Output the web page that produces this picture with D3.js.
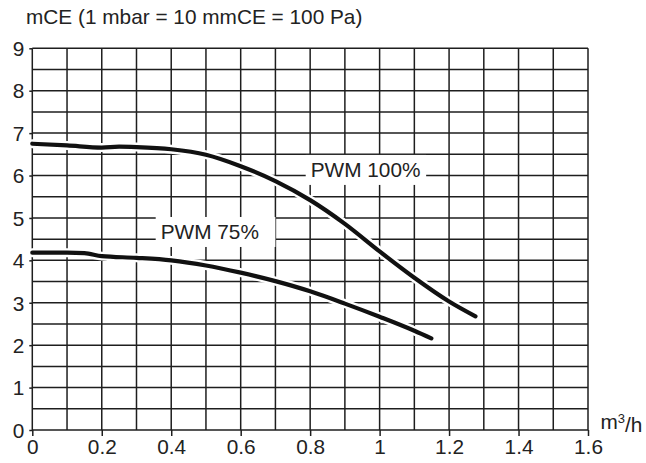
<!DOCTYPE html>
<html>
<head>
<meta charset="utf-8">
<script src="https://cdn.jsdelivr.net/npm/d3@7"></script>
<style>
	body { margin: 0; background: #fff; }
	text { font-family: "Liberation Sans", Arial, sans-serif; fill: #222; }
</style>
</head>
<body>
<svg id="pump-chart"></svg>
<script>
// flow (m3/h) and head (mCE)
var flow100 = [0, 0.1, 0.2, 0.25, 0.3, 0.4, 0.5, 0.6, 0.7, 0.8, 0.9, 1.0, 1.1, 1.2, 1.276];
var head100 = [6.75, 6.71, 6.66, 6.68, 6.67, 6.62, 6.49, 6.22, 5.87, 5.42, 4.86, 4.21, 3.59, 3.03, 2.68];

var flow75 = [0, 0.1, 0.15, 0.2, 0.3, 0.4, 0.5, 0.6, 0.7, 0.8, 0.9, 1.0, 1.1, 1.149];
var head75 = [4.18, 4.18, 4.17, 4.10, 4.06, 4.00, 3.88, 3.71, 3.51, 3.27, 2.98, 2.67, 2.34, 2.16];

var xTicks = [0, 0.2, 0.4, 0.6, 0.8, 1, 1.2, 1.4, 1.6];
var yTicks = [0, 1, 2, 3, 4, 5, 6, 7, 8, 9];

var seriesNames = ['PWM 100%', 'PWM 75%'];
// where each name sits (flow, head at the baseline) and how far its white box reaches right
var nameFlow = [0.8016, 0.3697];
var nameHead = [5.96, 4.497];
var boxRight = [1.134, 0.7];

var yTitle = 'mCE (1 mbar = 10 mmCE = 100 Pa)';

var width = 646,
    height = 463;

var margin = {left: 32.3, top: 48.3, right: 58, bottom: 33};
var plotW = width - margin.left - margin.right;
var plotH = height - margin.top - margin.bottom;

var svg = d3.select('#pump-chart')
	.attr('width', width)
	.attr('height', height);

var x = d3.scaleLinear().domain([0, 1.6]).range([0, plotW]);
var y = d3.scaleLinear().domain([0, 9]).range([plotH, 0]);

var g = svg.append('g')
	.attr('transform', `translate(${margin.left},${margin.top})`);

// grid: every 0.1 m3/h and every 0.5 mCE
var grid = g.append('g').attr('class', 'grid');

grid.selectAll('.vline')
	.data(d3.range(0, 17).map(i => i / 10))
	.enter()
	.append('line')
	.attr('x1', d => x(d))
	.attr('x2', d => x(d))
	.attr('y1', 0)
	.attr('y2', plotH)
	.attr('stroke', '#1e1e1e')
	.attr('stroke-width', 1.5);

grid.selectAll('.hline')
	.data(d3.range(0, 19).map(i => i / 2))
	.enter()
	.append('line')
	.attr('x1', 0)
	.attr('x2', plotW)
	.attr('y1', d => y(d))
	.attr('y2', d => y(d))
	.attr('stroke', '#1e1e1e')
	.attr('stroke-width', 1.5);

// axes (labels and short ticks only)
var xAxis = g.append('g')
	.attr('transform', `translate(0,${plotH})`)
	.call(d3.axisBottom(x)
		.tickValues(xTicks)
		.tickFormat(d3.format('~g'))
		.tickSize(6)
		.tickPadding(3));

var yAxis = g.append('g')
	.call(d3.axisLeft(y)
		.tickValues(yTicks)
		.tickFormat(d3.format('d'))
		.tickSize(3)
		.tickPadding(5));

[xAxis, yAxis].forEach(a => {
	a.select('.domain').remove();
	a.selectAll('line').attr('stroke', '#1e1e1e').attr('stroke-width', 1.5);
	a.selectAll('text')
		.style('font-size', '20.8px')
		.style('font-family', '"Liberation Sans", Arial, sans-serif')
		.attr('fill', '#222');
});
yAxis.selectAll('text').attr('dy', '0.35em');

// curves with a white halo that cuts the grid
var line = d3.line()
	.x(d => x(d[0]))
	.y(d => y(d[1]))
	.curve(d3.curveMonotoneX);

var curves = [
	d3.zip(flow100, head100),
	d3.zip(flow75, head75)
];

g.selectAll('.halo')
	.data(curves)
	.enter()
	.append('path')
	.attr('class', 'halo')
	.attr('d', line)
	.attr('fill', 'none')
	.attr('stroke', '#fff')
	.attr('stroke-width', 9)
	.attr('stroke-linecap', 'round');

g.selectAll('.curve')
	.data(curves)
	.enter()
	.append('path')
	.attr('class', 'curve')
	.attr('d', line)
	.attr('fill', 'none')
	.attr('stroke', '#111')
	.attr('stroke-width', 4.2)
	.attr('stroke-linecap', 'round')
	.attr('stroke-linejoin', 'round');

// series names on white boxes
seriesNames.forEach((name, i) => {
	var lg = g.append('g');
	var rect = lg.append('rect').attr('fill', '#fff');
	var t = lg.append('text')
		.attr('x', x(nameFlow[i]))
		.attr('y', y(nameHead[i]))
		.style('font-size', '20.8px')
		.text(name);
	var bb = t.node().getBBox();
	var left = bb.x - 5;
	rect.attr('x', left)
		.attr('y', y(nameHead[i]) - 22.3)
		.attr('width', x(boxRight[i]) - left)
		.attr('height', 30);
});

// axis titles
svg.append('text')
	.attr('x', 26)
	.attr('y', 23.5)
	.style('font-size', '20.8px')
	.text(yTitle);

var unit = svg.append('text')
	.attr('x', margin.left + plotW + 12.5)
	.attr('y', margin.top + plotH - 1.5)
	.style('font-size', '20.8px');
unit.append('tspan').text('m');
unit.append('tspan')
	.attr('dy', '-0.45em')
	.style('font-size', '13px')
	.text('3');
unit.append('tspan')
	.attr('dy', '0.45em')
	.text('/h');
</script>
</body>
</html>
